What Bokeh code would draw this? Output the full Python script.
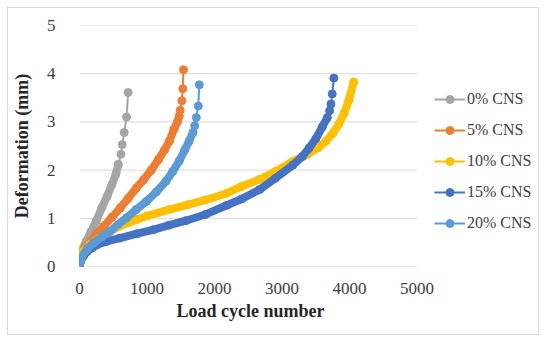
from bokeh.plotting import figure
from bokeh.models import Legend, LegendItem, Range1d, FixedTicker, Title
from bokeh.embed import file_html
from bokeh.resources import INLINE

# ---- data ----
series_names = ["0% CNS", "5% CNS", "10% CNS", "15% CNS", "20% CNS"]
colors = ["#A5A5A5", "#ED7D31", "#FFC000", "#4472C4", "#5B9BD5"]

cycles_0 = [0, 10, 40, 100, 170, 250, 330, 410, 480, 540, 575, 614, 633, 662, 697, 720]
deform_0 = [0, 0.15, 0.36, 0.52, 0.72, 0.95, 1.22, 1.46, 1.70, 1.92, 2.12, 2.33, 2.53, 2.78, 3.10, 3.61]

cycles_5 = [0, 20, 80, 161, 250, 355, 480, 600, 720, 843, 950, 1063, 1170, 1260, 1330, 1400, 1450,
            1477, 1491, 1516, 1530, 1540]
deform_5 = [0, 0.25, 0.40, 0.52, 0.67, 0.83, 1.02, 1.21, 1.41, 1.63, 1.80, 2.00, 2.22, 2.42, 2.60, 2.85, 3.00,
            3.12, 3.24, 3.44, 3.69, 4.08]

cycles_10 = [0, 10, 60, 150, 307, 450, 600, 843, 1000, 1330, 1600, 1867, 2183, 2400, 2671, 2900, 3158,
             3380, 3534, 3650, 3750, 3840, 3920, 3990, 4060]
deform_10 = [0, 0.20, 0.32, 0.45, 0.59, 0.72, 0.84, 0.97, 1.05, 1.18, 1.28, 1.38, 1.52, 1.66, 1.81, 1.97, 2.18,
             2.33, 2.46, 2.60, 2.76, 2.95, 3.18, 3.45, 3.83]

cycles_15 = [0, 20, 60, 112, 180, 258, 400, 600, 850, 1087, 1330, 1574, 1867, 2183, 2400, 2671, 2900, 3158,
             3300, 3402, 3500, 3597, 3670, 3704, 3724, 3743, 3767]
deform_15 = [0, 0.12, 0.22, 0.31, 0.38, 0.45, 0.52, 0.59, 0.68, 0.76, 0.86, 0.95, 1.08, 1.27, 1.40, 1.60, 1.83, 2.10,
             2.28, 2.46, 2.65, 2.90, 3.09, 3.23, 3.37, 3.58, 3.91]

cycles_20 = [0, 39, 120, 210, 330, 453, 570, 697, 840, 990, 1140, 1282, 1380, 1477, 1560, 1623, 1681,
             1706, 1730, 1759, 1774]
deform_20 = [0, 0.21, 0.38, 0.49, 0.61, 0.73, 0.87, 1.01, 1.18, 1.35, 1.55, 1.77, 1.97, 2.19, 2.42, 2.60, 2.78,
             2.92, 3.09, 3.33, 3.77]

all_x = [cycles_0, cycles_5, cycles_10, cycles_15, cycles_20]
all_y = [deform_0, deform_5, deform_10, deform_15, deform_20]

x_ticks = [0, 1000, 2000, 3000, 4000, 5000]
y_ticks = [0, 1, 2, 3, 4, 5]

# number of sparse (separated) points at the end of each curve
sparse_tail = [5, 4, 0, 4, 4]

FONT = "Liberation Serif"

# layout (pixels)
W, H = 532, 328
LEFT, TOP, BOTTOM = 65, 17, 70
AXIS_W = 342                      # pixel width of the 0..5000 axis
frame_w = W - LEFT
x_max = x_ticks[-1] * frame_w / AXIS_W   # frame continues to the right to hold the legend

p = figure(width=W, height=H, output_backend="svg", toolbar_location=None,
           x_range=Range1d(0, x_max), y_range=Range1d(y_ticks[0], y_ticks[-1]),
           min_border_left=LEFT, min_border_right=0, min_border_top=TOP, min_border_bottom=BOTTOM)
p.styles = {"border": "1px solid #D9D9D9", "margin-left": "7px", "margin-top": "7px"}
p.outline_line_color = None
p.background_fill_color = "white"
p.border_fill_color = "white"

p.xaxis.ticker = FixedTicker(ticks=x_ticks)
p.yaxis.ticker = FixedTicker(ticks=y_ticks)
p.xgrid.grid_line_color = None
p.ygrid.grid_line_color = None

# horizontal gridlines only across the 0..5000 plot area
p.segment(x0=[x_ticks[0]] * len(y_ticks), x1=[x_ticks[-1]] * len(y_ticks), y0=y_ticks, y1=y_ticks,
          line_color="#D9D9D9", line_width=1)

for ax in (p.xaxis, p.yaxis):
    ax.axis_line_color = None
    ax.major_tick_line_color = None
    ax.minor_tick_line_color = None
    ax.major_label_text_font = FONT
    ax.major_label_text_font_size = "17px"
    ax.major_label_text_color = "#404040"
    ax.axis_label_text_font = FONT
    ax.axis_label_text_font_size = "18px"
    ax.axis_label_text_font_style = "bold"
    ax.axis_label_text_color = "#262626"

p.yaxis.axis_label = "Deformation (mm)"
p.xaxis.major_label_standoff = 10
p.yaxis.major_label_standoff = 18
p.yaxis.axis_label_standoff = 12

xtitle = Title(text="Load cycle number", align="left", offset=97, standoff=4,
               text_font=FONT, text_font_size="18px", text_font_style="bold", text_color="#262626")
p.add_layout(xtitle, "below")

items = []
for xs, ys, c, name, tail in zip(all_x, all_y, colors, series_names, sparse_tail):
    dense_end = len(xs) - tail
    p.line(xs[:dense_end], ys[:dense_end], line_color=c, line_width=8,
           line_join="round", line_cap="round")
    ln = p.line(xs, ys, line_color=c, line_width=2)
    sc = p.scatter(xs, ys, marker="circle", size=8, fill_color=c, line_color=c)
    items.append(LegendItem(label=name, renderers=[ln, sc]))

legend = Legend(items=items, location=(355, 33), orientation="vertical",
                label_text_font=FONT, label_text_font_size="16px", label_text_color="#404040",
                glyph_width=31, glyph_height=20, spacing=11, label_standoff=2,
                padding=0, margin=0, border_line_color=None, background_fill_alpha=0)
p.add_layout(legend, "center")

open("out.html", "w").write(file_html(p, INLINE))
